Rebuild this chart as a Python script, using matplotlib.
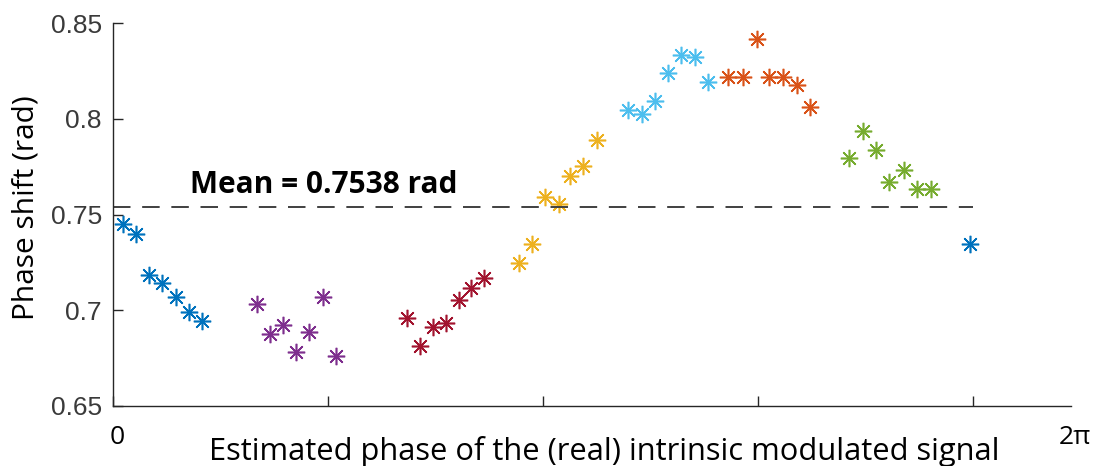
import numpy as np
import matplotlib.pyplot as plt

# ---- data: phase (rad) vs measured phase shift (rad), seven groups ----
x_blue = [0.071, 0.166, 0.263, 0.360, 0.458, 0.555, 0.652]
y_blue = [0.7450, 0.7400, 0.7186, 0.7141, 0.7071, 0.6993, 0.6946]

x_purple = [1.050, 1.147, 1.242, 1.339, 1.434, 1.532, 1.631]
y_purple = [0.7032, 0.6878, 0.6923, 0.6784, 0.6885, 0.7070, 0.6763]

x_red = [2.146, 2.243, 2.336, 2.431, 2.526, 2.618, 2.711]
y_red = [0.6961, 0.6814, 0.6914, 0.6932, 0.7054, 0.7117, 0.7171]

x_yellow = [2.966, 3.061, 3.158, 3.259, 3.341, 3.432, 3.539]
y_yellow = [0.7246, 0.7347, 0.7594, 0.7554, 0.7700, 0.7756, 0.7890]

x_cyan = [3.765, 3.863, 3.960, 4.057, 4.152, 4.252, 4.345]
y_cyan = [0.8047, 0.8024, 0.8095, 0.8242, 0.8334, 0.8325, 0.8193]

x_orange = [4.495, 4.601, 4.703, 4.795, 4.895, 4.995, 5.092]
y_orange = [0.8218, 0.8218, 0.8416, 0.8218, 0.8218, 0.8178, 0.8064]

x_green = [5.382, 5.480, 5.575, 5.672, 5.779, 5.876, 5.974]
y_green = [0.7795, 0.7939, 0.7838, 0.7671, 0.7732, 0.7633, 0.7633]

x_last = [6.266]
y_last = [0.7347]

mean_shift = 0.7538

groups = [
    (x_blue, y_blue, "#0072BD"),
    (x_purple, y_purple, "#7E2F8E"),
    (x_red, y_red, "#A2142F"),
    (x_yellow, y_yellow, "#EDB120"),
    (x_cyan, y_cyan, "#4DBEEE"),
    (x_orange, y_orange, "#D95319"),
    (x_green, y_green, "#77AC30"),
    (x_last, y_last, "#0072BD"),
]

fig = plt.figure(figsize=(10.95, 4.66), dpi=100)
ax = fig.add_axes([0.1032, 0.1288, 0.8748, 0.8212])

for xs, ys, c in groups:
    ax.plot(xs, ys, linestyle="none", marker=(8, 2, 0), markersize=12.5,
            markeredgewidth=1.15, color=c)

# mean line across one full period
ax.plot([0, 2 * np.pi], [mean_shift, mean_shift], color="#404040",
        linewidth=1.4, dashes=(9, 6))
ax.text(0.563, 0.7578, f"Mean = {mean_shift:.4f} rad", fontsize=21.5,
        fontweight="bold", family="Open Sans", ha="left", va="bottom")

ax.set_xlim(0, 7.0)
ax.set_ylim(0.65, 0.85)
ax.set_xticks([0, np.pi / 2, np.pi, 3 * np.pi / 2, 2 * np.pi])
ax.set_xticklabels([])
ax.set_yticks([0.65, 0.7, 0.75, 0.8, 0.85])
ax.set_yticklabels(["0.65", "0.7", "0.75", "0.8", "0.85"])

for s in ["top", "right"]:
    ax.spines[s].set_visible(False)
for s in ["left", "bottom"]:
    ax.spines[s].set_color("#262626")
    ax.spines[s].set_linewidth(1.0)
ax.tick_params(axis="both", direction="in", length=7, width=1.0,
               color="#262626")
ax.tick_params(axis="y", labelsize=19, labelcolor="#3a3a3a", pad=8)
for lbl in ax.get_yticklabels():
    lbl.set_family("Liberation Sans")

fig.text(0.024, 0.555, "Phase shift (rad)", fontsize=21.5, family="Open Sans",
         rotation=90, ha="center", va="center")
fig.text(0.107, 0.062, "0", fontsize=19, family="Open Sans", ha="center", va="center")
fig.text(0.982, 0.062, "2\u03c0", fontsize=19, family="Open Sans", ha="center", va="center")
fig.text(0.552, 0.032, "Estimated phase of the (real) intrinsic modulated signal",
         fontsize=22.2, family="Open Sans", ha="center", va="center")

fig.savefig("out.png", dpi=100)
